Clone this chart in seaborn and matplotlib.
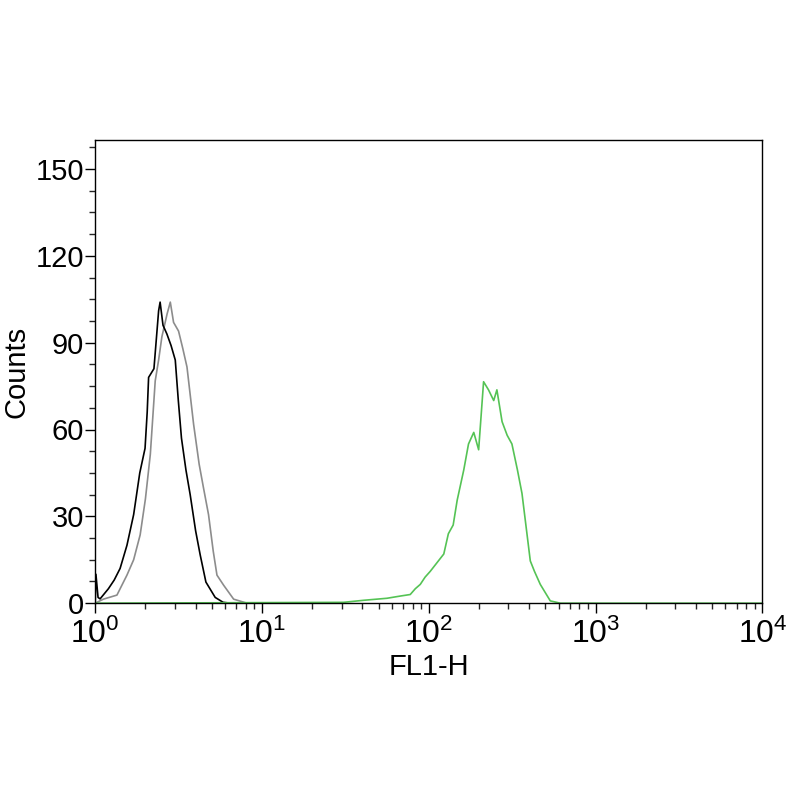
import matplotlib
matplotlib.use("Agg")
import matplotlib.pyplot as plt
import matplotlib.ticker as mticker
import seaborn as sns
import pandas as pd

# histogram traces (FL1-H, counts)
black_x = [1.0, 1.01, 1.04, 1.07, 1.2, 1.3, 1.41, 1.55, 1.70, 1.85, 1.99, 2.05, 2.09,
           2.25, 2.40, 2.45, 2.55, 2.69, 2.85, 3.02, 3.15, 3.29, 3.5, 3.71, 4.0,
           4.26, 4.61, 5.24, 5.85, 6.5]
black_y = [0, 10, 2, 1.5, 5, 8, 12, 20, 30.6, 45, 53.5, 66, 78,
           81, 101, 104, 96, 93, 89, 84, 70, 57, 46, 37.5, 25,
           16.7, 7.3, 2, 0.3, 0]

gray_x = [1.0, 1.12, 1.35, 1.55, 1.7, 1.86, 2.0, 2.14, 2.29, 2.4, 2.51, 2.7, 2.82,
          2.95, 3.16, 3.35, 3.55, 3.89, 4.2, 4.46, 4.78, 5.1, 5.37, 5.89, 6.76, 8.13]
gray_y = [0, 1.4, 2.8, 9.7, 15, 23.6, 36, 51.4, 76.8, 84, 92, 100, 104,
          97, 94, 88, 81.6, 61.8, 48, 39.8, 30.6, 18, 9.7, 6.2, 1.4, 0]

green_x = [1, 30.8, 40.6, 56.1, 68, 77.4, 83, 88.9, 95, 102, 112, 123, 131, 140,
           148, 162, 173, 186, 199, 213, 228, 245, 256, 275, 295, 315, 340,
           362, 406, 430, 466, 535, 615, 10000]
green_y = [0, 0.3, 1, 1.7, 2.5, 3, 5, 6.5, 9, 11, 14, 17, 24, 27,
           35.6, 46, 55, 59, 53, 76.5, 73.7, 70, 73.7, 62.7, 58, 55, 46,
           37.9, 14.6, 11, 6.5, 0.8, 0, 0]

sns.set_style("ticks")
plt.rcParams['font.family'] = ['Liberation Sans', 'DejaVu Sans']
plt.rcParams['mathtext.fontset'] = 'custom'
plt.rcParams['mathtext.rm'] = 'Liberation Sans'

fig = plt.figure(figsize=(8, 8), dpi=100)
ax = fig.add_axes([0.119, 0.246, 0.834, 0.579])

sns.lineplot(data=pd.DataFrame({'x': gray_x, 'y': gray_y}), x='x', y='y',
             ax=ax, color='#8c8c8c', lw=1.2, estimator=None)
sns.lineplot(data=pd.DataFrame({'x': black_x, 'y': black_y}), x='x', y='y',
             ax=ax, color='black', lw=1.2, estimator=None)
sns.lineplot(data=pd.DataFrame({'x': green_x, 'y': green_y}), x='x', y='y',
             ax=ax, color='#55c355', lw=1.2, estimator=None)

ax.set_xscale('log')
ax.set_xlim(1, 1e4)
ax.set_ylim(0, 160)
ax.set_yticks([0, 30, 60, 90, 120, 150])
ax.yaxis.set_minor_locator(mticker.MultipleLocator(7.5))
ax.xaxis.set_major_locator(mticker.LogLocator(base=10))
ax.xaxis.set_minor_locator(mticker.LogLocator(base=10, subs=range(2, 10)))
ax.xaxis.set_minor_formatter(mticker.NullFormatter())

for s in ax.spines.values():
    s.set_visible(True)
    s.set_color('black')
    s.set_linewidth(1.0)

ax.tick_params(axis='both', which='major', direction='out', length=7, width=1,
               labelsize=21, colors='black')
ax.tick_params(axis='both', which='minor', direction='out', length=4, width=1)
ax.tick_params(axis='y', which='major', pad=1)
ax.tick_params(axis='x', which='major', labelsize=23, pad=4)

ax.set_xlabel('FL1-H', fontsize=21, labelpad=2, color='black')
ax.set_ylabel('Counts', fontsize=21, labelpad=4, color='black')

fig.savefig('out.png', dpi=100, facecolor='white')
